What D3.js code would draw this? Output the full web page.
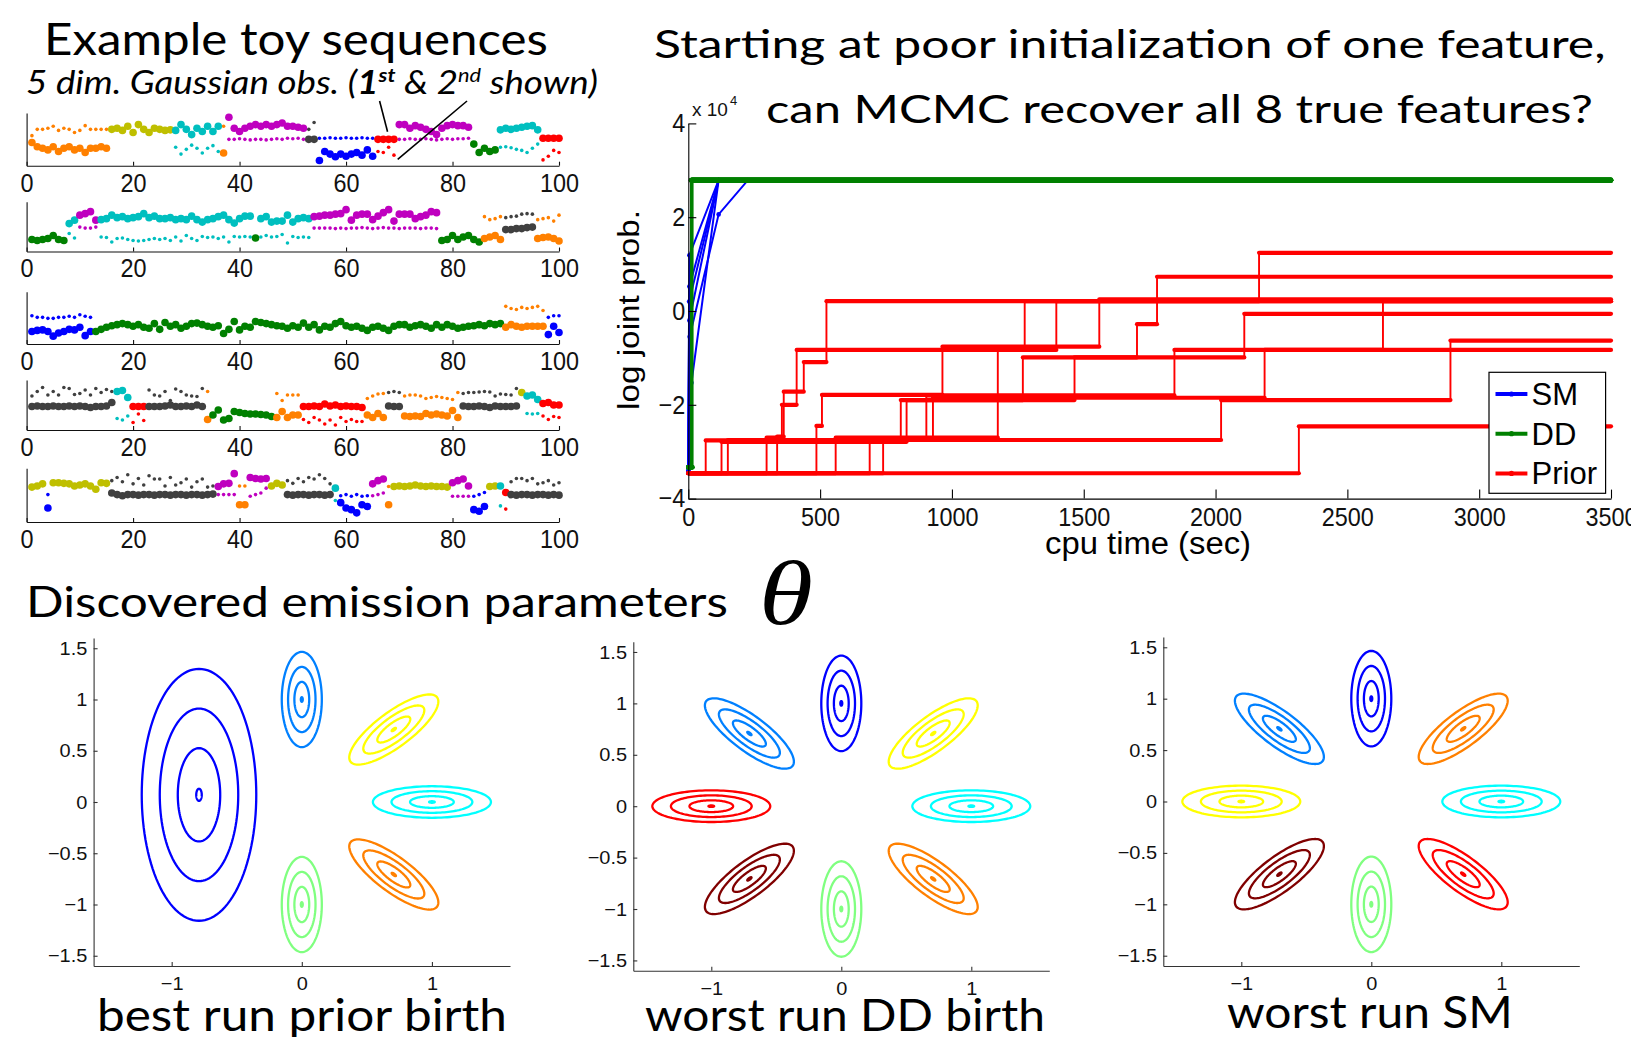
<!DOCTYPE html>
<html><head><meta charset="utf-8">
<script src="https://cdn.jsdelivr.net/npm/d3@7"></script>
<style>body{margin:0;background:#fff}svg{display:block}</style>
</head><body>
<svg id="c" width="1631" height="1037"></svg>
<script>
// ---------------- DATA ----------------
// sequence states: 0 orange,1 olive,2 cyan,3 magenta,4 gray,5 blue,6 red,7 green
const stateColors = ["#ff8000","#bfbf00","#00bfbf","#bf00bf","#404040","#0000ff","#ff0000","#008000"];
const seqTicks = [0,20,40,60,80,100];

const seq1Runs = [[0,15],[1,12],[2,9],[0,1],[3,15],[4,2],[5,11],[6,4],[3,14],[7,5],[2,8],[6,4]];
const seq1Dim1 = [4.4,3.6,3.3,3.0,3.6,2.7,3.3,3.6,3.0,3.3,2.5,3.3,3.3,3.6,3.3,
  6.9,7.1,6.7,7.5,6.3,7.8,6.9,6.3,7.1,6.9,6.7,6.8,
  6.7,7.8,6.9,5.9,7.1,6.5,7.5,6.5,7.5, 2.4,
  9.2,7.1,6.5,7.1,7.5,7.8,7.5,7.8,7.5,7.8,8.1,7.5,7.5,7.3,7.1, 5.0,5.0,
  1.0,2.7,2.2,1.7,2.2,1.8,2.2,2.5,2.0,3.0,1.8, 5.0,5.0,5.0,5.0,
  7.8,7.8,7.1,7.6,7.3,6.9,6.5,5.9,7.1,7.6,7.8,7.6,7.6,7.3,
  4.1,2.5,3.3,2.7,3.0, 6.8,7.1,6.9,7.1,7.3,7.5,7.6,6.8, 5.2,5.2,5.2,5.2];
const seq1Dim2 = [5.7,6.9,6.9,7.1,7.5,6.7,7.1,6.9,6.3,6.7,7.6,6.9,6.9,6.9,6.9,
  6.8,7.0,6.8,7.3,6.5,7.5,7.0,6.5,7.0,6.8,6.8,6.9,
  3.5,2.2,3.1,3.9,3.3,2.4,3.3,3.8,2.7, 7.5,
  5.0,5.0,5.1,5.0,4.9,5.0,5.0,4.9,5.0,5.1,5.0,5.2,5.1,5.2,5.0, 6.9,8.2,
  5.2,5.2,5.3,5.2,5.2,5.3,5.2,5.2,5.3,5.2,5.2, 2.7,2.5,3.5,2.0,
  5.0,5.0,5.1,5.0,5.0,5.1,5.0,4.9,5.0,5.1,5.0,5.1,5.1,5.2,
  3.9,2.7,3.1,2.9,3.1, 3.5,3.6,3.4,3.1,2.9,2.5,3.3,4.1, 1.1,1.8,2.9,2.5];

const seq2Runs = [[7,7],[2,2],[3,4],[2,29],[7,1],[2,10],[3,24],[7,8],[0,4],[4,6],[0,5]];
const seq2Dim1 = [2.4,2.2,2.4,2.6,3.2,2.4,2.2, 5.6,6.3, 7.3,7.6,8.0,6.3,
  6.4,6.6,7.3,6.8,7.0,6.6,6.8,7.0,7.6,6.8,7.1,6.6,6.6,6.8,6.4,6.6,6.4,7.1,6.4,5.9,6.4,6.6,7.0,7.3,6.4,5.7,6.6,7.1,7.1,
  2.7, 6.6,7.0,5.9,6.1,6.1,7.3,5.9,6.6,6.8,6.6,
  7.0,7.1,7.3,7.3,7.5,7.6,8.4,6.3,7.3,7.5,7.5,6.4,7.1,7.8,8.4,6.1,7.5,7.5,7.5,6.6,7.0,7.3,8.0,7.8,
  2.2,2.4,3.2,2.4,2.9,3.2,2.4,1.9, 2.6,2.9,3.2,2.4, 4.4,4.4,4.6,4.6,4.8,4.9, 2.6,2.8,2.9,2.6,2.1];
const seq2Dim2 = [2.3,2.3,2.3,2.5,3.0,2.3,2.3, 3.6,2.7, 4.9,4.7,4.7,4.9,
  2.9,2.8,1.9,2.6,2.7,2.4,2.2,2.1,2.2,2.4,2.6,2.4,2.6,2.2,2.9,2.1,3.2,2.6,2.2,3.0,2.8,2.9,2.6,2.9,1.9,3.0,2.9,3.0,2.9,
  2.8, 2.9,3.2,2.9,3.0,3.4,1.7,3.0,2.8,2.9,2.8,
  4.7,4.7,4.7,4.7,4.6,4.7,4.6,4.7,4.7,4.8,4.7,4.6,4.7,4.8,4.7,4.7,4.6,4.7,4.7,4.7,4.6,4.7,4.7,4.6,
  2.3,2.5,3.0,2.5,2.8,3.0,2.5,2.0, 7.0,6.4,6.6,7.0, 6.8,7.0,7.1,7.5,7.6,7.5, 6.4,6.6,6.8,6.1,7.3];

const seq3Runs = [[5,12],[7,77],[0,8],[5,3]];
const seq3Dim1 = [2.4,2.6,2.7,2.4,1.5,2.1,2.4,2.8,2.7,3.2,1.6,2.4,
  2.4,2.8,3.2,3.5,3.7,3.9,3.7,3.4,3.7,3.2, 3.0,3.9,2.8,4.1,3.4,3.7,3.0,3.4,3.9,4.0,
  3.7,3.4,3.2,3.5,2.0,2.8,4.3,2.7,3.4,3.2, 4.3,4.1,3.9,3.7,3.5,3.4,3.0,3.5,3.2,4.0,
  3.2,3.7,2.7,3.4,3.2,3.9,4.3,3.5,3.2,3.4, 3.0,2.6,3.2,3.4,3.0,2.6,3.4,3.7,3.7,3.2,
  3.5,3.7,3.4,3.0,3.7,3.2,3.7,3.4,3.0,3.2, 3.4,3.5,3.7,3.5,3.9,3.7,3.9,
  3.2,3.7,3.4,3.2,3.4,3.4,3.4,3.4, 1.8,3.4,2.2];
const seq3Dim2 = [5.4,5.1,5.1,4.9,4.9,5.1,5.1,5.3,5.1,5.6,5.3,5.1,
  2.5,2.9,3.1,3.4,3.6,3.8,3.6,3.3,3.6,3.1, 3.0,3.8,2.9,4.0,3.3,3.6,3.1,3.3,3.8,3.9,
  3.6,3.3,3.1,3.4,2.1,2.9,4.2,2.8,3.3,3.1, 4.2,4.0,3.8,3.6,3.4,3.3,3.1,3.4,3.1,3.9,
  3.1,3.6,2.8,3.3,3.1,3.8,4.2,3.4,3.1,3.3, 3.1,2.7,3.1,3.3,3.1,2.7,3.3,3.6,3.6,3.1,
  3.4,3.6,3.3,3.1,3.6,3.1,3.6,3.3,3.1,3.1, 3.3,3.4,3.6,3.4,3.8,3.6,3.8,
  7.2,6.8,6.6,7.0,6.8,7.0,7.2,6.4, 5.1,5.4,5.4];

const seq4Runs = [[4,16],[2,3],[6,3],[4,11],[0,1],[7,12],[0,5],[6,12],[0,4],[4,3],[0,11],[4,11],[1,1],[2,3],[6,4]];
const seq4Dim1 = [4.7,4.8,4.7,4.7,4.8,4.7,4.7,4.8,4.7,4.8,4.7,4.5,4.7,4.7,4.8,5.5,
  7.7,7.9,6.5, 4.7,4.7,4.7, 4.7,4.7,4.7,4.8,5.0,4.7,4.7,4.8,4.7,5.0,4.7, 2.1,
  3.0,4.0,2.0,2.3,3.7,3.5,3.3,3.2,3.2,3.1,3.0,2.7, 2.5,3.7,2.5,3.0,3.0,
  4.7,4.7,4.8,4.7,5.2,4.8,5.0,4.7,4.8,4.7,4.7,4.5, 3.0,2.5,3.3,2.5, 4.8,4.7,4.7,
  2.8,2.7,2.8,2.7,3.3,3.0,3.2,3.0,2.8,3.9,2.5, 4.8,4.7,4.7,4.8,4.7,4.5,4.8,4.7,4.7,4.7,4.8,
  7.5, 6.8,7.0,6.1, 5.3,5.5,5.0,5.0];
const seq4Dim2 = [6.8,7.7,8.5,7.0,7.7,7.0,8.5,8.3,7.1,7.3,8.0,7.0,8.3,7.5,8.1,7.7,
  2.3,2.0,2.8, 1.5,3.2,1.9, 8.0,7.0,6.8,7.7,5.9,8.2,7.7,7.0,6.8,6.7,8.3, 7.7,
  3.0,3.9,2.1,2.4,3.6,3.4,3.3,3.2,3.1,3.1,3.0,2.8, 7.3,5.9,7.0,7.0,7.0,
  2.1,1.5,2.5,2.0,1.2,2.0,1.0,2.5,1.7,2.1,1.7,1.7, 6.3,6.8,7.2,7.3, 7.5,7.7,7.5,
  6.8,7.0,7.0,6.8,6.3,6.5,6.7,6.5,6.3,6.1,7.5, 7.3,7.5,7.5,7.6,7.7,7.6,6.8,7.2,7.1,7.0,8.3,
  7.4, 3.3,3.2,3.3, 2.8,2.1,2.7,2.5];

const seq5Runs = [[1,3],[5,1],[1,11],[4,20],[3,4],[0,2],[3,4],[1,3],[4,9],[2,1],[5,6],[3,3],[0,1],[1,11],[3,4],[5,3],[1,2],[2,1],[6,1],[4,10]];
const seq5Dim1 = [6.5,6.7,7.1, 2.6, 7.3,7.3,7.2,7.1,6.7,6.9,7.1,6.7,6.1,7.3,7.2,
  5.4,5.1,4.9,5.1,5.1,5.0,5.1,5.1,5.0,5.1,5.1,5.0,5.1,5.1,5.0,5.1,5.1,5.0,5.1,5.2,
  6.6,7.1,7.2,9.0, 3.2,3.2, 8.3,8.1,8.0,8.1, 6.7,7.2,6.9, 5.1,5.0,5.1,5.1,5.0,5.1,5.1,5.0,5.1,
  6.3, 3.6,2.6,2.3,1.7,3.2,2.9, 7.1,7.7,8.0, 3.2, 6.6,6.7,6.6,6.7,6.9,6.7,6.6,6.7,6.6,6.6,6.5,
  7.3,7.7,8.0,6.7, 2.3,2.0,2.9, 6.6,6.7, 6.7, 5.5, 5.1,5.0,5.1,5.1,5.0,5.1,5.1,5.0,5.1,5.0];
const seq5Dim2 = [6.5,6.7,7.0, 5.1, 7.2,7.2,7.1,7.0,6.8,6.9,7.0,6.8,6.2,7.2,7.1,
  7.7,8.3,7.5,8.8,7.1,8.1,6.9,8.6,8.0,8.0,6.7,8.3,6.9,7.3,8.0,6.5,7.5,8.0,6.5,6.7,
  5.1,5.1,5.1,5.1, 6.7,6.7, 4.8,5.1,5.4,6.3, 6.8,7.1,6.9, 7.7,7.2,8.1,7.5,8.3,8.0,8.8,8.1,7.1,
  4.0, 4.9,5.1,4.8,5.1,4.8,4.9, 4.9,5.1,5.4, 6.6, 6.5,6.6,6.6,6.7,6.8,6.6,6.6,6.6,6.5,6.6,6.5,
  4.8,4.8,4.8,4.8, 4.8,5.1,5.5, 6.6,6.7, 3.0, 2.4, 7.5,8.1,8.1,7.7,8.1,7.1,7.3,7.7,6.9,7.3];

const annotTargets = [[67.8, 6.45],[69.7, 1.2]]; // (time, value) pointed at in sequence 1

// MCMC traces: [cpu time, log joint prob (x1e4)]
const tEnd = 3500;
const cpuTicks = [0,500,1000,1500,2000,2500,3000,3500];
const logpTicks = [-4,-2,0,2,4];
const smRuns = [
  [[0,-3.42],[4,1.19],[115,2.79],[3500,2.79]],
  [[0,-3.42],[4,0.52],[115,2.79],[3500,2.79]],
  [[0,-3.42],[3,0.2],[115,2.79],[3500,2.79]],
  [[0,-3.42],[4,-0.2],[115,2.79],[3500,2.79]],
  [[0,-3.42],[5,-0.55],[115,2.06],[226,2.79],[3500,2.79]],
  [[0,-3.42],[12,-1.53],[115,2.79],[3500,2.79]]
];
const ddRuns = [
  [[0,-3.33],[10,2.79]],[[0,-3.33],[12,2.79]],[[0,-3.33],[14,2.80]],[[0,-3.33],[16,2.79]],
  [[0,-3.33],[11,2.78]],[[0,-3.33],[13,2.79]],[[0,-3.33],[15,2.80]],[[0,-3.33],[12,2.79]]
];
const priorRuns = [
  [[0,-3.46],[2316,-2.46]],
  [[0,-3.46],[337,-2.68],[362,-1.72],[438,-1.09],[524,0.21]],
  [[0,-3.46],[297,-2.70],[355,-2.0],[411,-0.83],[1276,0.21]],
  [[0,-3.46],[486,-2.45],[507,-1.79],[964,-0.76],[1559,0.25]],
  [[0,-3.46],[559,-2.70],[1174,-0.83],[1396,0.21],[2165,1.24]],
  [[0,-3.46],[66,-2.76],[806,-1.90],[1269,-0.99],[1702,-0.28],[1778,0.73]],
  [[0,-3.46],[126,-2.79],[828,-1.90],[1465,-0.99],[2109,-0.06]],
  [[0,-3.46],[688,-2.72],[903,-1.80],[1844,-0.83]],
  [[0,-3.46],[739,-2.74],[928,-1.85],[2186,-0.83],[2635,0.21]],
  [[0,-3.46],[150,-2.75],[2021,-1.90],[2891,-0.63]]
];
const legendLabels = ["SM","DD","Prior"];

// Gaussian emission features: [meanX, meanY, sigmaMajor, sigmaMinor, angleDeg, colorIdx]
const jet8 = ["#0000ff","#0080ff","#00ffff","#80ff80","#ffff00","#ff8000","#ff0000","#800000"];
const contourLevels = [0.13, 1, 1.85, 2.7];
const thetaTicksX = [-1,0,1];
const thetaTicksY = [-1.5,-1,-0.5,0,0.5,1,1.5];
const bestPriorFeatures = [
  [-0.79,0.07,0.455,0.163,90,0],[0,1,0.172,0.057,90,1],[0.707,0.707,0.17,0.057,45,4],
  [1,0,0.168,0.057,0,2],[0.707,-0.707,0.17,0.057,-45,5],[0,-1,0.172,0.057,90,3]];
const worstDDFeatures = [
  [0,1,0.172,0.057,90,0],[-0.707,0.707,0.17,0.057,-45,1],[0.707,0.707,0.17,0.057,45,4],
  [-1,0,0.168,0.057,0,6],[1,0,0.168,0.057,0,2],[-0.707,-0.707,0.17,0.057,45,7],
  [0,-1,0.172,0.057,90,3],[0.707,-0.707,0.17,0.057,-45,5]];
const worstSMFeatures = [
  [0,1,0.172,0.057,90,0],[-0.707,0.707,0.17,0.057,-45,1],[0.707,0.707,0.17,0.057,45,5],
  [-1,0,0.168,0.057,0,4],[1,0,0.168,0.057,0,2],[-0.707,-0.707,0.17,0.057,45,7],
  [0,-1,0.172,0.057,90,3],[0.707,-0.707,0.17,0.057,-45,6]];

// ---------------- DRAW ----------------
const svg = d3.select("#c");
const FT = "Lato, 'Open Sans', sans-serif";
const FA = "'Liberation Sans', Arial, Helvetica, sans-serif";

function fitText(sel, x0, x1, baseline) {
  const w = sel.node().getComputedTextLength();
  const sx = (x1 - x0) / w;
  sel.attr("x", 0).attr("y", 0).attr("transform", `translate(${x0},${baseline}) scale(${sx},1)`);
  return sx;
}
function styleAxis(g, size, sx, color) {
  g.attr("font-family", FA).attr("font-size", size);
  g.selectAll("path.domain").attr("stroke", color).attr("stroke-width", 1.1);
  g.selectAll(".tick line").attr("stroke", color).attr("stroke-width", 1.1);
  g.selectAll(".tick text").attr("fill", "#111").attr("transform", `scale(${sx},1)`);
}

// titles
fitText(svg.append("text").attr("font-family", FT).attr("font-size", 44).text("Example toy sequences"), 44, 548, 55);
const sub = svg.append("text").attr("font-family", FT).attr("font-size", 32).attr("font-style", "italic");
sub.append("tspan").text("5 dim. Gaussian obs. (");
sub.append("tspan").attr("font-weight", "bold").text("1");
sub.append("tspan").attr("font-weight", "bold").attr("font-size", 19).attr("dy", -12).text("st");
sub.append("tspan").attr("dy", 12).text(" & 2");
sub.append("tspan").attr("font-size", 19).attr("dy", -12).text("nd");
sub.append("tspan").attr("dy", 12).text(" shown)");
const subX0 = 26, subBase = 94;
const subSx = fitText(sub, subX0, 598, subBase);

fitText(svg.append("text").attr("font-family", FT).attr("font-size", 39).text("Starting at poor initialization of one feature,"), 654, 1606, 57.5);
fitText(svg.append("text").attr("font-family", FT).attr("font-size", 39).text("can MCMC recover all 8 true features?"), 766, 1593, 123);
fitText(svg.append("text").attr("font-family", FT).attr("font-size", 42).text("Discovered emission parameters"), 26, 728, 617);
fitText(svg.append("text").attr("font-family", "'Liberation Serif','Times New Roman',serif").attr("font-style", "italic").attr("font-size", 90).text("θ"), 759, 813, 624);

// ---- sequence panels ----
const sequences = [
  {runs: seq1Runs, d1: seq1Dim1, d2: seq1Dim2},
  {runs: seq2Runs, d1: seq2Dim1, d2: seq2Dim2},
  {runs: seq3Runs, d1: seq3Dim1, d2: seq3Dim2},
  {runs: seq4Runs, d1: seq4Dim1, d2: seq4Dim2},
  {runs: seq5Runs, d1: seq5Dim1, d2: seq5Dim2}
];
const seqFrames = [[165.7,113],[251.5,201.7],[344,291.7],[430,380],[522,468.3]];
let seq1Scales = null;
sequences.forEach((sq, i) => {
  const [yb, yt] = seqFrames[i];
  const xs = d3.scaleLinear().domain([0,100]).range([26.6, 559]);
  const ys = d3.scaleLinear().domain([0,10]).range([yb, yt]);
  if (i === 0) seq1Scales = {xs, ys};
  const states = sq.runs.flatMap(([s,n]) => d3.range(n).map(() => s));
  const pts = states.map((s,k) => ({t: k+1, s, a: sq.d1[k], b: sq.d2[k]}));
  const g = svg.append("g");
  g.selectAll("circle.sm").data(pts.filter(d => d.b != null)).join("circle").attr("class","sm")
    .attr("cx", d => xs(d.t)).attr("cy", d => ys(d.b)).attr("r", 1.8).attr("fill", d => stateColors[d.s]);
  g.selectAll("circle.bg").data(pts.filter(d => d.a != null)).join("circle").attr("class","bg")
    .attr("cx", d => xs(d.t)).attr("cy", d => ys(d.a)).attr("r", 3.8).attr("fill", d => stateColors[d.s]);
  const ax = g.append("g").attr("transform", `translate(0,${yb})`)
    .call(d3.axisBottom(xs).tickValues(seqTicks).tickSize(-4).tickSizeOuter(0).tickPadding(7.5).tickFormat(d3.format("d")));
  styleAxis(ax, 26, 0.9, "#111");
  const ay = g.append("g").attr("transform", `translate(${xs(0)},0)`)
    .call(d3.axisLeft(ys).tickValues([]).tickSizeOuter(0));
  styleAxis(ay, 26, 1, "#111");
});

// annotation lines from subtitle
(function () {
  const n = sub.node();
  const e1 = n.getExtentOfChar(22), e2 = n.getExtentOfChar(28);
  const {xs, ys} = seq1Scales;
  const starts = [[subX0 + subSx*(e1.x + e1.width) + 1, subBase + 7], [subX0 + subSx*(e2.x + e2.width) + 9, subBase + 7]];
  annotTargets.forEach((tg, k) => {
    svg.append("line").attr("x1", starts[k][0]).attr("y1", starts[k][1])
      .attr("x2", xs(tg[0])).attr("y2", ys(tg[1])).attr("stroke", "#000").attr("stroke-width", 1.6);
  });
})();

// ---- MCMC trace plot ----
const gm = svg.append("g");
const xm = d3.scaleLinear().domain([0, tEnd]).range([688.3, 1611]);
const ym = d3.scaleLinear().domain([-4, 4]).range([498.6, 123.4]);
const linLine = d3.line().x(d => xm(d[0])).y(d => ym(d[1]));
const stepLine = d3.line().x(d => xm(d[0])).y(d => ym(d[1])).curve(d3.curveStepAfter);
const BLUE = "#0000ff", GREEN = "#008000", RED = "#ff0000";

smRuns.forEach(run => {
  gm.append("path").attr("d", linLine(run)).attr("fill", "none").attr("stroke", BLUE).attr("stroke-width", 2);
  gm.selectAll(null).data(run.slice(0, -1)).join("circle").attr("cx", d => xm(d[0])).attr("cy", d => ym(d[1])).attr("r", 2.3).attr("fill", BLUE);
});
function withEnd(run) { return run.concat([[tEnd, run[run.length-1][1]]]); }
function drawSteps(runs, color, thick) {
  runs.forEach(run => {
    const pts = withEnd(run);
    gm.append("path").attr("d", stepLine(pts)).attr("fill", "none").attr("stroke", color).attr("stroke-width", 1.9);
    gm.selectAll(null).data(d3.pairs(pts)).join("line")
      .attr("x1", d => xm(d[0][0])).attr("x2", d => xm(d[1][0]))
      .attr("y1", d => ym(d[0][1])).attr("y2", d => ym(d[0][1]))
      .attr("stroke", color).attr("stroke-width", thick).attr("stroke-linecap", "round");
  });
}
drawSteps(ddRuns, GREEN, 4.6);
drawSteps(priorRuns, RED, 4.2);

const axm = gm.append("g").attr("transform", `translate(0,${ym(-4)})`)
  .call(d3.axisBottom(xm).tickValues(cpuTicks).tickSize(-9).tickSizeOuter(0).tickPadding(9).tickFormat(d3.format("d")));
styleAxis(axm, 26, 0.9, "#000");
const aym = gm.append("g").attr("transform", `translate(${xm(0)},0)`)
  .call(d3.axisLeft(ym).tickValues(logpTicks).tickSize(-8).tickSizeOuter(0).tickPadding(3.5)
    .tickFormat(d => (d < 0 ? "\u2212" : "") + Math.abs(d)));
styleAxis(aym, 26, 0.9, "#000");

// x 10^4
const ex = gm.append("text").attr("font-family", FA).attr("font-size", 19).attr("x", 692).attr("y", 116).attr("fill", "#111");
ex.append("tspan").text("x 10");
ex.append("tspan").attr("font-size", 13).attr("dy", -11).attr("dx", 2).text("4");

// axis labels
const yl = gm.append("text").attr("font-family", FA).attr("font-size", 30).attr("text-anchor", "middle").text("log joint prob.");
{ const w = yl.node().getComputedTextLength(); const sx = 200 / w;
  yl.attr("transform", `translate(639,310) rotate(-90) scale(${sx},1)`); }
const xl = gm.append("text").attr("font-family", FA).attr("font-size", 31).attr("text-anchor", "middle").text("cpu time (sec)");
{ const w = xl.node().getComputedTextLength(); const sx = 206 / w;
  xl.attr("transform", `translate(1148,554) scale(${sx},1)`); }

// legend
const lg = gm.append("g");
lg.append("rect").attr("x", 1489).attr("y", 372.3).attr("width", 116.6).attr("height", 121)
  .attr("fill", "#fff").attr("stroke", "#000").attr("stroke-width", 1.2);
const legColors = [BLUE, GREEN, RED];
legendLabels.forEach((lab, k) => {
  const cy = 394 + k * 39.7;
  lg.append("line").attr("x1", 1495.5).attr("x2", 1527.4).attr("y1", cy).attr("y2", cy)
    .attr("stroke", legColors[k]).attr("stroke-width", 4);
  lg.append("circle").attr("cx", 1511.5).attr("cy", cy).attr("r", 2.6).attr("fill", legColors[k]);
  lg.append("text").attr("font-family", FA).attr("font-size", 31).attr("x", 1531.5).attr("y", cy + 11)
    .attr("fill", "#000").text(lab);
});

// ---- emission parameter panels ----
const thetaPanels = [
  {feats: bestPriorFeatures, caption: "best run prior birth", xr: [93.6, 510], yr: [966, 638], cap: [97, 507, 1031]},
  {feats: worstDDFeatures, caption: "worst run DD birth", xr: [633.3, 1049.3], yr: [970.7, 641.7], cap: [645, 1045, 1031]},
  {feats: worstSMFeatures, caption: "worst run SM", xr: [1163.3, 1579.3], yr: [966, 637], cap: [1227, 1513, 1028]}
];
thetaPanels.forEach(p => {
  const g = svg.append("g");
  const xs = d3.scaleLinear().domain([-1.6, 1.6]).range(p.xr);
  const ys = d3.scaleLinear().domain([-1.6, 1.6]).range(p.yr);
  const line = d3.line().x(d => xs(d[0])).y(d => ys(d[1])).curve(d3.curveLinearClosed);
  p.feats.forEach(([cx, cy, a, b, ang, ci]) => {
    const th = ang * Math.PI / 180, c = Math.cos(th), s = Math.sin(th);
    contourLevels.forEach(k => {
      const pts = d3.range(0, 360, 3).map(deg => {
        const q = deg * Math.PI / 180, u = a * k * Math.cos(q), v = b * k * Math.sin(q);
        return [cx + u * c - v * s, cy + u * s + v * c];
      });
      g.append("path").attr("d", line(pts)).attr("fill", "none")
        .attr("stroke", jet8[ci]).attr("stroke-width", 2.3);
    });
  });
  const fmt = d => (d < 0 ? "\u2212" : "") + Math.abs(d);
  const ax = g.append("g").attr("transform", `translate(0,${p.yr[0]})`)
    .call(d3.axisBottom(xs).tickValues(thetaTicksX).tickSize(-4).tickSizeOuter(0).tickPadding(10.5).tickFormat(fmt));
  styleAxis(ax, 19, 1.05, "#333");
  const ay = g.append("g").attr("transform", `translate(${p.xr[0]},0)`)
    .call(d3.axisLeft(ys).tickValues(thetaTicksY).tickSize(-4).tickSizeOuter(0).tickPadding(6).tickFormat(fmt));
  styleAxis(ay, 19, 1.05, "#333");
  fitText(svg.append("text").attr("font-family", FT).attr("font-size", 45).text(p.caption), p.cap[0], p.cap[1], p.cap[2]);
});
</script>
</body></html>
